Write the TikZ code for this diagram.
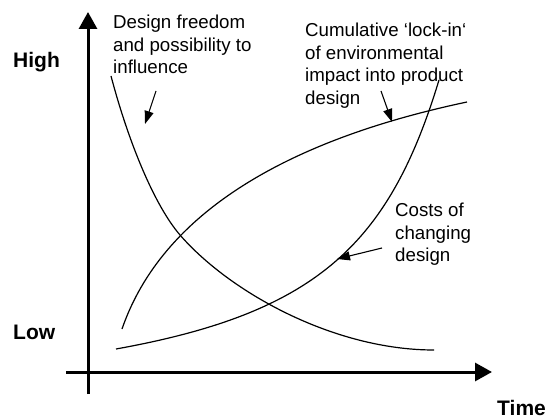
\documentclass[tikz,border=0pt]{standalone}
\usepackage{fontspec}
\setmainfont{Liberation Sans}
\usetikzlibrary{arrows.meta}

\begin{document}
\begin{tikzpicture}[x=1pt, y=-1pt,
  axis/.style={line width=3pt, -{Triangle[length=17pt,width=18pt]}},
  curve/.style={line width=1.2pt},
  pointer/.style={line width=1.1pt, -{Triangle[length=13pt,width=9pt]}},
  lbl/.style={font=\fontsize{21}{25}\selectfont\bfseries, inner sep=0pt, anchor=base west},
  note/.style={font=\fontsize{18.7}{22.5}\selectfont, inner sep=0pt, anchor=north west, align=left}]

\useasboundingbox (0,0) rectangle (548,419);

\coordinate (y0) at (88,394);
\coordinate (y1) at (88,12);
\coordinate (x0) at (66,372);
\coordinate (x1) at (492,372);

\draw[axis] (y0) -- (y1);
\draw[axis] (x0) -- (x1);

\node[lbl] (high) at (13,68) {High};
\node[lbl] (low) at (13,339) {Low};
\node[lbl] (time) at (497,415) {Time};

\node[note] (free) at (113,15) {Design freedom\\and possibility to\\influence};
\node[note] (lock) at (305,23) {Cumulative ‘lock-in‘\\of environmental\\impact into product\\design};
\node[note] (cost) at (395,203) {Costs of\\changing\\design};

% falling curve
\draw[curve] (111,76) .. controls (129,144) and (155,206) .. (180,235)
  .. controls (230,292.5) and (334,350) .. (434,350);
% lock-in curve
\draw[curve] (122,329) .. controls (162,213) and (287,140) .. (467,102);
% costs curve
\draw[curve] (116,349) .. controls (316,313) and (389,245) .. (439,80);

\coordinate (f0) at (156,91);
\coordinate (f1) at (145,124);
\coordinate (l0) at (381,91);
\coordinate (l1) at (392,122);
\coordinate (c0) at (382,248);
\coordinate (c1) at (337,259);

\draw[pointer] (f0) -- (f1);
\draw[pointer] (l0) -- (l1);
\draw[pointer] (c0) -- (c1);
\end{tikzpicture}
\end{document}
